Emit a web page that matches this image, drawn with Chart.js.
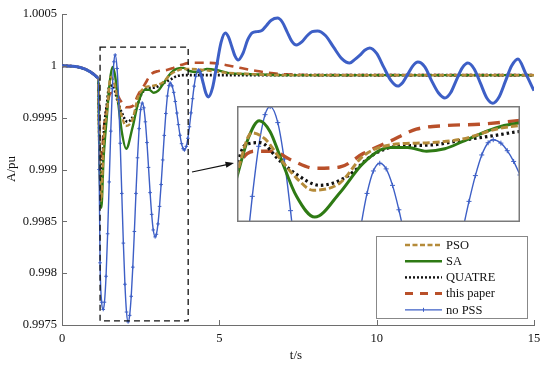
<!DOCTYPE html>
<html>
<head>
<meta charset="utf-8">
<script src="https://cdn.jsdelivr.net/npm/chart.js@4.4.0/dist/chart.umd.min.js"></script>
<style>
html, body { margin: 0; padding: 0; background: #fff; }
#wrap { position: relative; width: 550px; height: 367px; }
#mainChart { position: absolute; left: 0; top: 0; }
#insetChart { position: absolute; left: 237px; top: 106px; }
</style>
</head>
<body>
<div id="wrap">
  <canvas id="mainChart" width="550" height="367"></canvas>
  <canvas id="insetChart" width="283" height="116"></canvas>
</div>
<script>
// Axis ticks
const xTicks = [0, 5, 10, 15];
const xTickLabels = ['0', '5', '10', '15'];
const yTicks = [0.9975, 0.998, 0.9985, 0.999, 0.9995, 1, 1.0005];
const yTickLabels = ['0.9975', '0.998', '0.9985', '0.999', '0.9995', '1', '1.0005'];
const seriesNames = ['PSO', 'SA', 'QUATRE', 'this paper', 'no PSS'];

// PSO
const psoTime = [0, 1.15, 1.19, 1.24, 1.33, 1.43, 1.545, 1.65, 1.767, 1.897, 2.027, 2.237, 2.419, 2.628, 2.94, 3.2, 3.46, 3.64, 3.85, 4.1, 4.5, 5.0, 6.0, 7.0, 9, 12, 15];
const psoValue = [1.0, 0.99988, 0.9991, 0.9987, 0.9993, 0.99957, 0.99989, 0.99984, 0.99968, 0.99952, 0.99942, 0.99948, 0.99970, 0.99979, 0.99981, 0.99984, 0.99992, 0.99995, 0.99997, 0.99997, 0.99996, 0.99994, 0.99992, 0.99991, 0.99991, 0.99991, 0.99991];

// SA
const saTime = [0, 1.15, 1.19, 1.25, 1.32, 1.43, 1.52, 1.605, 1.69, 1.767, 1.897, 2.04, 2.237, 2.419, 2.628, 2.77, 2.916, 3.06, 3.202, 3.46, 3.64, 3.85, 4.05, 4.3, 4.6, 4.9, 5.3, 6, 7, 9, 12, 15];
const saValue = [1.0, 0.99988, 0.9991, 0.99863, 0.9991, 0.99953, 0.99985, 0.99999, 0.99990, 0.99970, 0.99937, 0.99920, 0.99940, 0.99964, 0.99977, 0.99977, 0.99974, 0.99976, 0.99982, 0.99993, 0.99997, 0.99998, 0.99995, 0.99994, 0.99997, 0.99996, 0.99993, 0.99992, 0.99991, 0.99991, 0.99991, 0.99991];

// QUATRE
const quatreTime = [0, 1.15, 1.19, 1.25, 1.34, 1.43, 1.493, 1.61, 1.767, 1.897, 2.08, 2.289, 2.497, 2.68, 2.94, 3.2, 3.46, 3.64, 3.9, 4.3, 5, 6, 9, 12, 15];
const quatreValue = [1.0, 0.99988, 0.9992, 0.9989, 0.9994, 0.99964, 0.99979, 0.99981, 0.99966, 0.99955, 0.99946, 0.99953, 0.99971, 0.99978, 0.99979, 0.99983, 0.99987, 0.99990, 0.99991, 0.99991, 0.99991, 0.99991, 0.99991, 0.99991, 0.99991];

// this paper
const paperTime = [0, 1.15, 1.19, 1.24, 1.33, 1.43, 1.51, 1.584, 1.70, 1.87, 2.04, 2.237, 2.419, 2.628, 2.837, 3.07, 3.33, 3.54, 3.8, 4.1, 4.5, 5.0, 5.5, 6.2, 7.0, 9, 12, 15];
const paperValue = [1.0, 0.99988, 0.9993, 0.9991, 0.9994, 0.99961, 0.99972, 0.99974, 0.99974, 0.99966, 0.99960, 0.99961, 0.99972, 0.99982, 0.99992, 0.99995, 0.99996, 0.99998, 1.00001, 1.00003, 1.00003, 1.00002, 0.99999, 0.99995, 0.99992, 0.99991, 0.99991, 0.99991];

// no PSS
const noPssTime = [0, 1.15, 1.18, 1.21, 1.26, 1.31, 1.35, 1.40, 1.45, 1.50, 1.55, 1.60, 1.65, 1.69, 1.75, 1.80, 1.85, 1.90, 1.95, 2.00, 2.05, 2.10, 2.15, 2.20, 2.25, 2.30, 2.35, 2.40, 2.45, 2.50, 2.55, 2.60, 2.65, 2.70, 2.75, 2.80, 2.85, 2.90, 2.96, 3.00, 3.05, 3.10, 3.15, 3.20, 3.25, 3.30, 3.35, 3.40, 3.44, 3.50, 3.55, 3.60, 3.65, 3.70, 3.75, 3.80, 3.85, 3.89, 3.95, 4.00, 4.05, 4.10, 4.15, 4.20, 4.25, 4.33, 4.41, 4.49, 4.57, 4.65, 4.785, 4.92, 5.055, 5.19, 5.29, 5.395, 5.5, 5.6, 5.75, 5.9, 6.05, 6.2, 6.35, 6.5, 6.65, 6.85, 7.0, 7.15, 7.3, 7.45, 7.62, 7.79, 7.95, 8.12, 8.38, 8.63, 8.89, 9.14, 9.3, 9.46, 9.62, 9.78, 10.0, 10.22, 10.45, 10.67, 10.83, 10.99, 11.15, 11.31, 11.53, 11.74, 11.96, 12.17, 12.35, 12.53, 12.72, 12.9, 13.1, 13.3, 13.5, 13.69, 13.89, 14.09, 14.29, 14.49, 14.73, 15.0];
const noPssValue = [1.0, 0.99988, 0.9990, 0.9981, 0.99772, 0.99765, 0.99772, 0.99797, 0.99838, 0.99888, 0.99937, 0.99978, 1.000039, 1.000105, 0.999974, 0.999675, 0.999253, 0.998769, 0.99829, 0.997893, 0.997625, 0.99753, 0.997593, 0.997777, 0.998058, 0.998402, 0.998769, 0.999113, 0.999394, 0.999578, 0.999641, 0.999595, 0.99946, 0.99926, 0.99902, 0.998777, 0.998567, 0.998417, 0.99835, 0.998375, 0.998475, 0.998644, 0.998855, 0.999092, 0.999329, 0.99954, 0.999709, 0.999809, 0.999834, 0.999806, 0.999744, 0.999656, 0.999545, 0.999433, 0.99933, 0.999249, 0.999201, 0.999188, 0.999223, 0.999301, 0.999412, 0.999546, 0.999683, 0.999804, 0.999898, 0.99996, 0.999922, 0.99983, 0.999738, 0.9997, 0.99979, 1.000009, 1.000227, 1.000317, 1.00028, 1.000187, 1.000093, 1.000056, 1.00012, 1.00025, 1.00032, 1.00033, 1.00034, 1.00039, 1.00044, 1.000461, 1.000423, 1.00033, 1.000238, 1.0002, 1.00023, 1.00029, 1.00033, 1.000336, 1.00029, 1.00018, 1.00007, 1.000027, 1.00006, 1.0001, 1.00015, 1.000172, 1.00012, 0.99999, 0.99986, 0.999805, 0.99984, 0.99992, 1.0, 1.000037, 0.99999, 0.99986, 0.99974, 0.99969, 0.99974, 0.99986, 0.99998, 1.000027, 0.99997, 0.99983, 0.99969, 0.99964, 0.9997, 0.99985, 1.0, 1.000066, 0.99993, 0.99976];

// dashed zoom window on the main plot and the range shown in the inset
const zoomT = [1.21, 4.01];
const zoomA = [0.99754, 1.00018];
const insetT = [1.43, 3.65];
const insetA = [0.99916, 1.00011];

const serif = '"Liberation Serif", "DejaVu Serif", serif';
const axisColor = '#6e6e6e';

// line styles (main plot / inset)
const styles = [
    { color: '#b58b3a', dash: [5, 2.5], width: 2.4, insetDash: [7, 3], insetWidth: 3 },
    { color: '#2e7a14', dash: [], width: 2.4, insetDash: [], insetWidth: 3 },
    { color: '#111111', dash: [2, 2], width: 2.6, insetDash: [2.5, 3], insetWidth: 3.2 },
    { color: '#b9502a', dash: [9, 6], width: 2.6, insetDash: [12, 8], insetWidth: 3.4 },
    { color: '#3d5fc6', dash: [], width: 1.4, insetDash: [], insetWidth: 1.4 }
];

function toPoints(times, values) {
    return times.map((t, i) => ({ x: t, y: values[i] }));
}

const seriesData = [
    toPoints(psoTime, psoValue),
    toPoints(saTime, saValue),
    toPoints(quatreTime, quatreValue),
    toPoints(paperTime, paperValue),
    toPoints(noPssTime, noPssValue)
];

function buildDatasets(inset) {
    return seriesData.map((pts, i) => {
        const s = styles[i];
        const isBlue = i === 4;
        const ds = {
            label: seriesNames[i],
            data: pts,
            borderColor: s.color,
            backgroundColor: s.color,
            borderWidth: inset ? s.insetWidth : s.width,
            borderDash: inset ? s.insetDash : s.dash,
            cubicInterpolationMode: 'monotone',
            pointRadius: 0,
            fill: false,
            order: isBlue ? (inset ? 5 : 0) : i + 1
        };
        if (isBlue) {
            ds.pointStyle = 'cross';
            ds.pointBorderColor = s.color;
            ds.pointBorderWidth = 1;
            ds.pointRadius = c => (c.raw && c.raw.x > 1.16 && c.raw.x < 4.4) ? (inset ? 2.5 : 1.8) : 0;
            if (!inset) {
                // dense markers make the line look heavy outside the fast swings
                ds.segment = { borderWidth: c => (c.p0.parsed.x > 4.3 || c.p1.parsed.x <= 1.15) ? 3 : 1.4 };
            }
        }
        return ds;
    });
}

// ticks inside, dashed window, arrow, axis titles and legend
const mainDecor = {
    id: 'mainDecor',
    afterDatasetsDraw(chart) {
        const { ctx, chartArea: a, scales: { x, y } } = chart;
        ctx.save();

        ctx.strokeStyle = axisColor;
        ctx.lineWidth = 1;
        xTicks.forEach(v => {
            const px = Math.round(x.getPixelForValue(v)) + 0.5;
            ctx.beginPath(); ctx.moveTo(px, a.bottom); ctx.lineTo(px, a.bottom - 5); ctx.stroke();
        });
        yTicks.forEach(v => {
            const py = Math.round(y.getPixelForValue(v)) + 0.5;
            ctx.beginPath(); ctx.moveTo(a.left, py); ctx.lineTo(a.left + 5, py); ctx.stroke();
        });

        // zoom window
        const bx0 = x.getPixelForValue(zoomT[0]), bx1 = x.getPixelForValue(zoomT[1]);
        const by0 = y.getPixelForValue(zoomA[1]), by1 = y.getPixelForValue(zoomA[0]);
        ctx.setLineDash([6, 4]);
        ctx.strokeStyle = '#111';
        ctx.lineWidth = 1.3;
        ctx.strokeRect(bx0, by0, bx1 - bx0, by1 - by0);
        ctx.setLineDash([]);

        // arrow towards the inset
        const ax0 = 192, ay0 = 172, ax1 = 234, ay1 = 163;
        ctx.strokeStyle = '#111';
        ctx.fillStyle = '#111';
        ctx.lineWidth = 1.2;
        ctx.beginPath(); ctx.moveTo(ax0, ay0); ctx.lineTo(ax1 - 6, ay1 + 1.3); ctx.stroke();
        const ang = Math.atan2(ay1 - ay0, ax1 - ax0);
        ctx.beginPath();
        ctx.moveTo(ax1, ay1);
        ctx.lineTo(ax1 - 9 * Math.cos(ang - 0.35), ay1 - 9 * Math.sin(ang - 0.35));
        ctx.lineTo(ax1 - 9 * Math.cos(ang + 0.35), ay1 - 9 * Math.sin(ang + 0.35));
        ctx.closePath();
        ctx.fill();

        // axis titles
        ctx.fillStyle = '#111';
        ctx.font = '13px ' + serif;
        ctx.textAlign = 'center';
        ctx.textBaseline = 'middle';
        ctx.fillText('t/s', 296, 356);
        ctx.save();
        ctx.translate(12, 169);
        ctx.rotate(-Math.PI / 2);
        ctx.fillText('A/pu', 0, 0);
        ctx.restore();

        // legend
        const lx = 376.5, ly = 236.5, lw = 151, lh = 82;
        ctx.fillStyle = '#fff';
        ctx.fillRect(lx, ly, lw, lh);
        ctx.strokeStyle = '#888';
        ctx.lineWidth = 1;
        ctx.strokeRect(lx, ly, lw, lh);
        ctx.font = '12.5px ' + serif;
        ctx.textAlign = 'left';
        seriesNames.forEach((name, i) => {
            const s = styles[i];
            const ry = 245 + i * 16.2;
            ctx.strokeStyle = s.color;
            ctx.lineWidth = i === 4 ? 1.2 : (i === 3 ? 3 : 2.4);
            ctx.setLineDash(i === 3 ? [8, 7] : s.dash);
            ctx.beginPath(); ctx.moveTo(405, ry); ctx.lineTo(442, ry); ctx.stroke();
            ctx.setLineDash([]);
            if (i === 4) {
                ctx.lineWidth = 1;
                ctx.beginPath();
                ctx.moveTo(423.5, ry - 2); ctx.lineTo(423.5, ry + 2);
                ctx.stroke();
            }
            ctx.fillStyle = '#111';
            ctx.fillText(name, 446, ry + 0.5);
        });

        ctx.restore();
    }
};

new Chart(document.getElementById('mainChart'), {
    type: 'line',
    data: { datasets: buildDatasets(false) },
    options: {
        responsive: false,
        devicePixelRatio: 1,
        animation: false,
        events: [],
        layout: { padding: { left: 0, right: 16, top: 14, bottom: 0 } },
        plugins: { legend: { display: false }, tooltip: { enabled: false } },
        scales: {
            x: {
                type: 'linear',
                min: 0,
                max: 15,
                grid: { display: false, drawTicks: false },
                border: { display: true, color: axisColor, width: 1 },
                ticks: {
                    color: '#111',
                    font: { family: serif, size: 12.5 },
                    padding: 6,
                    maxRotation: 0,
                    callback: (v, i) => xTickLabels[i]
                },
                afterBuildTicks: s => { s.ticks = xTicks.map(v => ({ value: v })); },
                afterFit: s => { s.height = 42; }
            },
            y: {
                type: 'linear',
                min: 0.9975,
                max: 1.0005,
                grid: { display: false, drawTicks: false },
                border: { display: true, color: axisColor, width: 1 },
                ticks: {
                    color: '#111',
                    font: { family: serif, size: 12.5 },
                    padding: 5,
                    callback: (v, i) => yTickLabels[i]
                },
                afterBuildTicks: s => { s.ticks = yTicks.map(v => ({ value: v })); },
                afterFit: s => { s.width = 62; }
            }
        }
    },
    plugins: [mainDecor]
});

// inset: same series, enlarged window
const insetFrame = {
    id: 'insetFrame',
    beforeDraw(chart) {
        const { ctx, width, height } = chart;
        ctx.save();
        ctx.fillStyle = '#fff';
        ctx.fillRect(0, 0, width, height);
        ctx.restore();
    },
    afterDraw(chart) {
        const { ctx, width, height } = chart;
        ctx.save();
        ctx.strokeStyle = '#7a7a7a';
        ctx.lineWidth = 1.5;
        ctx.strokeRect(0.75, 0.75, width - 1.5, height - 1.5);
        ctx.restore();
    }
};

new Chart(document.getElementById('insetChart'), {
    type: 'line',
    data: { datasets: buildDatasets(true) },
    options: {
        responsive: false,
        devicePixelRatio: 1,
        animation: false,
        events: [],
        layout: { padding: 0 },
        plugins: { legend: { display: false }, tooltip: { enabled: false } },
        scales: {
            x: { type: 'linear', display: false, min: insetT[0], max: insetT[1] },
            y: { type: 'linear', display: false, min: insetA[0], max: insetA[1] }
        }
    },
    plugins: [insetFrame]
});
</script>
</body>
</html>
